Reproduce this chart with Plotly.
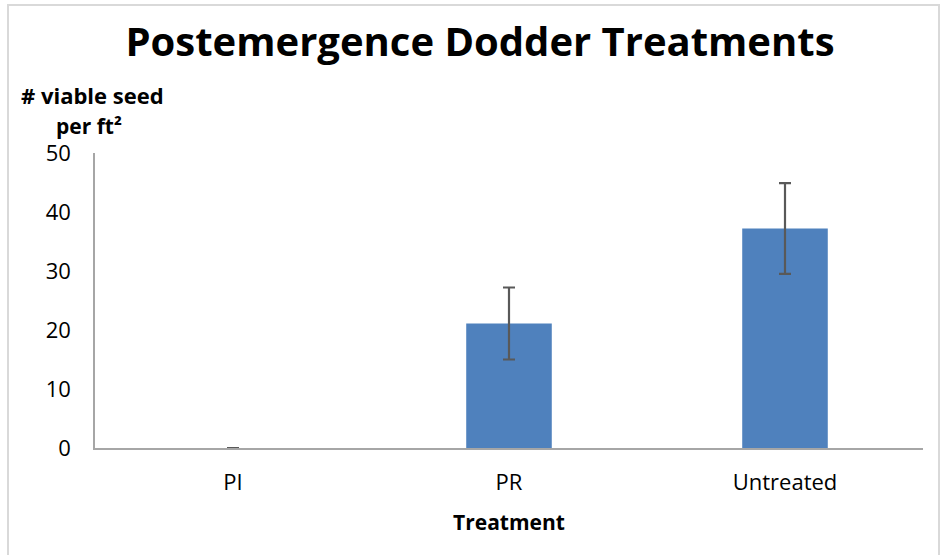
import plotly.graph_objects as go

categories = ["PI", "PR", "Untreated"]
values = [0, 21.1, 37.2]
errors = [0, 6.1, 7.7]
y_ticks = [0, 10, 20, 30, 40, 50]

FONT = "Open Sans"

fig = go.Figure()
fig.add_trace(go.Bar(
    x=categories, y=values,
    marker=dict(color="#4f81bd", line=dict(width=0)),
    width=0.31,
    error_y=dict(type="data", array=errors, visible=True,
                 color="#595959", thickness=2.2, width=6),
))

fig.update_layout(
    width=940, height=555,
    margin=dict(l=95, r=17, t=153, b=107),
    paper_bgcolor="white", plot_bgcolor="white",
    showlegend=False,
    title=dict(text="<b>Postemergence Dodder Treatments</b>",
               x=480 / 940, xanchor="center",
               y=1 - 42 / 555, yanchor="middle",
               font=dict(family=FONT, size=40, color="black")),
    font=dict(family=FONT, color="black"),
    xaxis=dict(showline=True, linecolor="#a6a6a6", linewidth=1.5,
               ticks="outside", ticklen=14, tickcolor="rgba(0,0,0,0)",
               tickfont=dict(size=22, color="black"),
               title=dict(text="<b>Treatment</b>", font=dict(size=21), standoff=20)),
    yaxis=dict(range=[0, 50], tickvals=y_ticks, showgrid=False, zeroline=False,
               showline=True, linecolor="#a6a6a6", linewidth=1.5,
               ticks="outside", ticklen=18, tickcolor="rgba(0,0,0,0)",
               tickfont=dict(size=22, color="black")),
    bargap=0.69,
    annotations=[
        dict(text="<b># viable seed</b>", xref="paper", yref="paper",
             x=(92 - 95) / 828, y=(448 - 95) / 295, xanchor="center", yanchor="middle",
             showarrow=False, font=dict(size=22, color="black")),
        dict(text="<b>per ft²</b>", xref="paper", yref="paper",
             x=(89 - 95) / 828, y=(448 - 126) / 295, xanchor="center", yanchor="middle",
             showarrow=False, font=dict(size=21, color="black")),
    ],
    shapes=[
        dict(type="rect", xref="paper", yref="paper",
             x0=(8 - 95) / 828, x1=(939 - 95) / 828,
             y0=(448 - 560) / 295, y1=(448 - 5) / 295,
             line=dict(color="#d9d9d9", width=2), fillcolor="rgba(0,0,0,0)", layer="below"),
    ],
)

fig.write_html("out.html", config={"displayModeBar": False},
               post_script="document.body.style.margin='0';")
